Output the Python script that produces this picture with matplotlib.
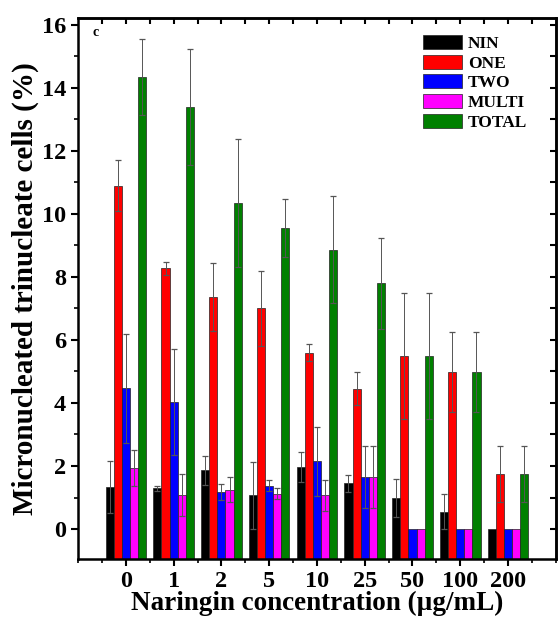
import matplotlib
matplotlib.use('Agg')
import matplotlib.pyplot as plt
import numpy as np
from matplotlib.ticker import MultipleLocator

plt.rcParams['font.family'] = 'Liberation Serif'
plt.rcParams['font.weight'] = 'bold'

# data
conc = ['0', '1', '2', '5', '10', '25', '50', '100', '200']
series = ['NIN', 'ONE', 'TWO', 'MULTI', 'TOTAL']
colors = ['#000000', '#ff0000', '#0000ff', '#ff00ff', '#008000']

nin = [1.33, 1.30, 1.87, 1.07, 1.97, 1.45, 0.98, 0.55, 0.0]
one = [10.9, 8.27, 7.37, 7.0, 5.6, 4.45, 5.48, 4.98, 1.75]
two = [4.47, 4.03, 1.17, 1.38, 2.15, 1.65, 0.0, 0.0, 0.0]
multi = [1.93, 1.07, 1.25, 1.12, 1.07, 1.65, 0.0, 0.0, 0.0]
total = [14.35, 13.4, 10.35, 9.55, 8.87, 7.8, 5.48, 4.98, 1.75]

nin_err = [0.83, 0.08, 0.46, 1.07, 0.48, 0.28, 0.6, 0.55, 0.0]
one_err = [0.82, 0.2, 1.08, 1.2, 0.28, 0.52, 2.0, 1.28, 0.88]
two_err = [1.73, 1.68, 0.26, 0.17, 1.1, 0.98, 0.0, 0.0, 0.0]
multi_err = [0.57, 0.67, 0.4, 0.18, 0.5, 0.98, 0.0, 0.0, 0.0]
total_err = [1.2, 1.85, 2.02, 0.92, 1.7, 1.45, 2.0, 1.28, 0.88]

values = [nin, one, two, multi, total]
errors = [nin_err, one_err, two_err, multi_err, total_err]

fig = plt.figure(figsize=(5.58, 6.19), dpi=100)
ax = fig.add_axes([0.14, 0.097, 0.856, 0.874])

ymin = -0.95
x = np.arange(1, len(conc) + 1)
w = 0.17
for i, (name, vals, errs, c) in enumerate(zip(series, values, errors, colors)):
    pos = x + (i - 2) * w
    vals = np.array(vals)
    ax.bar(pos, vals - ymin, bottom=ymin, width=w, color=c, edgecolor='#222222',
           linewidth=0.5, label=name)
    mask = np.array(errs) > 0
    ax.errorbar(pos[mask], vals[mask], yerr=np.array(errs)[mask], fmt='none',
                ecolor='#555555', elinewidth=0.7, capsize=2.5, capthick=0.9)

ax.set_xlim(0, 10)
ax.set_ylim(ymin, 16.22)
ax.set_xticks(x)
ax.set_xticklabels(conc)
ax.xaxis.set_minor_locator(MultipleLocator(0.5))
ax.yaxis.set_major_locator(MultipleLocator(2))
ax.yaxis.set_minor_locator(MultipleLocator(1))
ax.tick_params(axis='both', which='major', labelsize=17.5, width=1.5, length=5)
ax.tick_params(axis='both', which='minor', width=1.2, length=3)
ax.tick_params(axis='both', which='both', direction='out', top=False, right=False)

# inward ticks on the top and right frame
secx = ax.secondary_xaxis('top')
secx.set_xticks(np.arange(0.5, 10, 0.5))
secx.tick_params(direction='in', length=4, width=1.5, labeltop=False)
secy = ax.secondary_yaxis('right')
secy.set_yticks(np.arange(0, 17, 1))
secy.tick_params(direction='in', length=4, width=1.5, labelright=False)
for s in ax.spines.values():
    s.set_linewidth(1.8)
secx.spines['top'].set_linewidth(1.8)
secy.spines['right'].set_linewidth(1.8)

ax.set_xlabel('Naringin concentration (\u00b5g/mL)', fontsize=19.5, fontweight='bold', labelpad=-1)
ax.set_ylabel('Micronucleated trinucleate cells (%)', fontsize=21, fontweight='bold', labelpad=2)
ax.text(0.03, 0.985, 'c', transform=ax.transAxes, fontsize=10, fontweight='bold', va='top')

ax.legend(loc='upper left', bbox_to_anchor=(0.722, 0.968), frameon=False, fontsize=12.5,
          handlelength=2.25, handleheight=0.86, labelspacing=0.15, handletextpad=0.35,
          borderpad=0, borderaxespad=0)

fig.savefig('out.png', dpi=100)
